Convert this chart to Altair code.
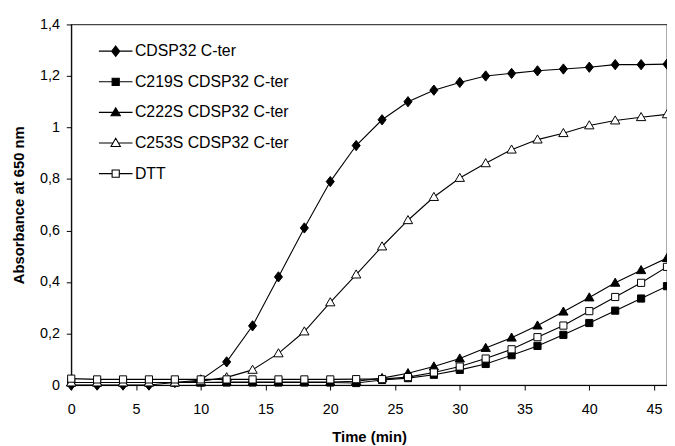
import altair as alt
import pandas as pd

# ---- data ----
time_min = list(range(0, 48, 2))
series_names = ["CDSP32 C-ter", "C219S CDSP32 C-ter", "C222S CDSP32 C-ter",
                "C253S CDSP32 C-ter", "DTT"]

cdsp32 = [0.0, 0.0, 0.0, 0.0, 0.01, 0.02, 0.09, 0.23, 0.42, 0.61, 0.79, 0.93,
          1.03, 1.10, 1.145, 1.175, 1.20, 1.21, 1.22, 1.227, 1.234, 1.244, 1.244, 1.246]
c219s = [0.01, 0.01, 0.01, 0.01, 0.01, 0.01, 0.01, 0.01, 0.01, 0.01, 0.01, 0.008,
         0.02, 0.027, 0.04, 0.059, 0.082, 0.116, 0.152, 0.195, 0.241, 0.289, 0.336, 0.384]
c222s = [0.01, 0.01, 0.01, 0.01, 0.01, 0.01, 0.012, 0.012, 0.012, 0.012, 0.012, 0.015,
         0.027, 0.046, 0.072, 0.103, 0.144, 0.184, 0.231, 0.285, 0.340, 0.397, 0.446, 0.493]
c253s = [0.01, 0.01, 0.01, 0.01, 0.01, 0.015, 0.03, 0.059, 0.123, 0.208, 0.321, 0.429,
         0.538, 0.640, 0.730, 0.804, 0.861, 0.914, 0.953, 0.978, 1.008, 1.027, 1.040, 1.051]
dtt = [0.025, 0.022, 0.022, 0.022, 0.022, 0.022, 0.022, 0.022, 0.022, 0.022, 0.022, 0.023,
       0.023, 0.031, 0.049, 0.072, 0.103, 0.139, 0.186, 0.231, 0.287, 0.342, 0.397, 0.459]

x_ticks = [0, 5, 10, 15, 20, 25, 30, 35, 40, 45]
y_ticks = [0, 0.2, 0.4, 0.6, 0.8, 1.0, 1.2, 1.4]

# ---- build table ----
rows = []
for name, vals in zip(series_names, [cdsp32, c219s, c222s, c253s, dtt]):
    for t, v in zip(time_min, vals):
        rows.append({"series": name, "t": t, "absorbance": v})
df = pd.DataFrame(rows)

# ---- marker shapes (unit coordinates) ----
DIAMOND = "M0,-0.33L0.26,0L0,0.33L-0.26,0Z"
SQUARE = "M-0.23,-0.23L0.23,-0.23L0.23,0.23L-0.23,0.23Z"
TRIANGLE = "M0,-0.3L0.3,0.22L-0.3,0.22Z"
marker_shapes = [DIAMOND, SQUARE, TRIANGLE, TRIANGLE, SQUARE]
marker_fills = ["black", "black", "black", "white", "white"]
marker_strokes = ["black"] * 5
edge = [0.26, 0.23, 0.17, 0.17, 0.23]
legend_shapes = [f"M-1.08,0L-{e},0M{e},0L1.08,0" + s for s, e in zip(marker_shapes, edge)]

FONT = "Liberation Sans"
SIZE = 992

x_enc = alt.X("t:Q", scale=alt.Scale(domain=[0, 46], nice=False),
              axis=alt.Axis(values=x_ticks, title="Time (min)", grid=False,
                            labelFont=FONT, labelFontSize=14.5, labelColor="black",
                            labelPadding=13, tickSize=5, tickColor="black",
                            domainColor="black", titleFont=FONT, titleFontSize=15,
                            titleFontWeight="bold", titleColor="black", titlePadding=14,
                            labelFlush=False))
y_enc = alt.Y("absorbance:Q", scale=alt.Scale(domain=[0, 1.4], nice=False),
              axis=alt.Axis(values=y_ticks, title="Absorbance at 650 nm", grid=False,
                            labelExpr="replace(toString(round(datum.value*10)/10), '.', ',')",
                            labelFont=FONT, labelFontSize=14.5, labelColor="black",
                            labelPadding=7, tickSize=5, tickColor="black",
                            domainColor="black", titleFont=FONT, titleFontSize=15,
                            titleFontWeight="bold", titleColor="black", titlePadding=13))

base = alt.Chart(df)

lines = base.mark_line(color="black", strokeWidth=1.1).encode(
    x=x_enc, y=y_enc, detail="series:N", order="t:Q")

points = base.mark_point(size=SIZE, stroke="black", strokeWidth=1, opacity=1).encode(
    x=x_enc, y=y_enc,
    shape=alt.Shape("series:N", scale=alt.Scale(domain=series_names, range=marker_shapes), legend=None),
    fill=alt.Fill("series:N", scale=alt.Scale(domain=series_names, range=marker_fills), legend=None),
)

leg = dict(orient="none", legendX=28.5, legendY=10.5, title=None, labelFont=FONT,
           labelFontSize=16, labelColor="black", symbolSize=SIZE,
           symbolStrokeWidth=1.1, symbolOpacity=1,
           labelOffset=3, rowPadding=6, padding=0, labelLimit=400)

legend_layer = base.transform_filter("datum.t < 0").mark_point(
    size=SIZE, strokeWidth=1.1, opacity=1).encode(
    x=x_enc, y=y_enc,
    shape=alt.Shape("series:N", scale=alt.Scale(domain=series_names, range=legend_shapes),
                    legend=alt.Legend(**leg)),
    fill=alt.Fill("series:N", scale=alt.Scale(domain=series_names, range=marker_fills),
                  legend=alt.Legend(**leg)),
    stroke=alt.Stroke("series:N", scale=alt.Scale(domain=series_names, range=marker_strokes),
                      legend=alt.Legend(**leg)),
)

chart = alt.layer(lines, points, legend_layer).resolve_scale(
    shape="independent", fill="independent", stroke="independent"
).properties(
    width=603, height=365,
    autosize=alt.AutoSizeParams(type="none"),
    padding={"left": 64, "top": 14, "right": 0, "bottom": 59},
    background="white",
).configure_view(stroke="#444", strokeWidth=1.3)

chart.save("out.html", embed_options={"renderer": "svg", "actions": False})
